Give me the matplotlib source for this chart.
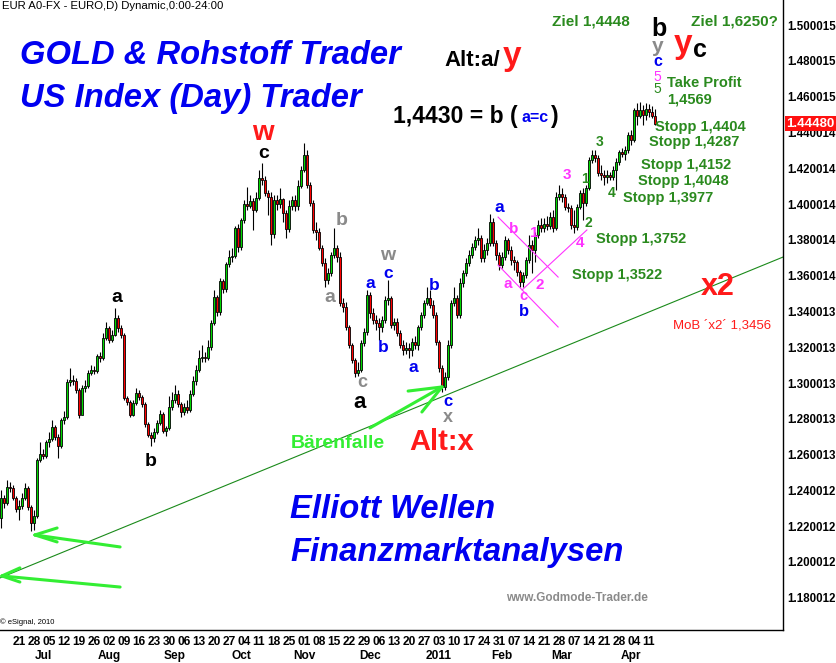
import matplotlib
matplotlib.use('Agg')
import matplotlib.pyplot as plt
import numpy as np
import pandas as pd
from matplotlib.transforms import blended_transform_factory

# ---------------- data (EUR/USD daily) ----------------
first_open = 1.2246
closes = [
 1.2358, 1.2330, 1.2419, 1.2413, 1.2358, 1.2296, 1.2313, 1.2358, 1.2413, 1.2307,
 1.2218, 1.2257, 1.2570, 1.2603, 1.2592, 1.2670, 1.2687, 1.2754, 1.2698, 1.2648,
 1.2793, 1.2810, 1.3006, 1.3017, 1.3011, 1.2961, 1.2821, 1.2972, 1.2983, 1.3056,
 1.3073, 1.3067, 1.3151, 1.3140, 1.3251, 1.3307, 1.3240, 1.3268, 1.3363, 1.3307,
 1.3268, 1.2916, 1.2894, 1.2821, 1.2888, 1.2944, 1.2922, 1.2883, 1.2771, 1.2709,
 1.2693, 1.2726, 1.2776, 1.2827, 1.2732, 1.2749, 1.2866, 1.2905, 1.2939, 1.2883,
 1.2838, 1.2866, 1.2849, 1.2939, 1.3011, 1.3073, 1.3140, 1.3145, 1.3140, 1.3201,
 1.3335, 1.3481, 1.3397, 1.3570, 1.3525, 1.3665, 1.3704, 1.3710, 1.3866, 1.3760,
 1.3911, 1.4000, 1.3989, 1.4017, 1.3966, 1.4034, 1.4145, 1.4134, 1.4061, 1.4039,
 1.3832, 1.4022, 1.4000, 1.4028, 1.3950, 1.3860, 1.3989, 1.4022, 1.3989, 1.4101,
 1.4190, 1.4274, 1.4106, 1.4006, 1.3855, 1.3844, 1.3754, 1.3670, 1.3575, 1.3615,
 1.3715, 1.3754, 1.3704, 1.3447, 1.3425, 1.3313, 1.3212, 1.3128, 1.3056, 1.3073,
 1.3223, 1.3285, 1.3492, 1.3391, 1.3352, 1.3335, 1.3313, 1.3352, 1.3464, 1.3475,
 1.3324, 1.3341, 1.3279, 1.3212, 1.3184, 1.3195, 1.3184, 1.3229, 1.3212, 1.3313,
 1.3380, 1.3447, 1.3475, 1.3436, 1.3380, 1.3229, 1.3084, 1.2978, 1.3034, 1.3212,
 1.3447, 1.3475, 1.3380, 1.3559, 1.3615, 1.3670, 1.3715, 1.3760, 1.3799, 1.3810,
 1.3698, 1.3743, 1.3782, 1.3899, 1.3782, 1.3715, 1.3659, 1.3704, 1.3799, 1.3743,
 1.3687, 1.3676, 1.3620, 1.3564, 1.3603, 1.3687, 1.3771, 1.3743, 1.3827, 1.3883,
 1.3866, 1.3888, 1.3877, 1.3927, 1.3866, 1.4039, 1.4056, 1.4039, 1.3983, 1.3978,
 1.3883, 1.3872, 1.3983, 1.4061, 1.4006, 1.4089, 1.4246, 1.4274, 1.4257, 1.4173,
 1.4162, 1.4151, 1.4162, 1.4151, 1.4190, 1.4235, 1.4291, 1.4279, 1.4302, 1.4386,
 1.4358, 1.4525, 1.4492, 1.4525, 1.4497, 1.4531, 1.4514, 1.4492, 1.4448]
highs = [
 1.2402, 1.2374, 1.2458, 1.2447, 1.2430, 1.2369, 1.2346, 1.2386, 1.2441, 1.2425,
 1.2318, 1.2291, 1.2581, 1.2670, 1.2631, 1.2682, 1.2726, 1.2793, 1.2765, 1.2715,
 1.2804, 1.2844, 1.3022, 1.3084, 1.3045, 1.3028, 1.2972, 1.2989, 1.3017, 1.3073,
 1.3101, 1.3095, 1.3162, 1.3173, 1.3279, 1.3341, 1.3319, 1.3296, 1.3419, 1.3380,
 1.3324, 1.3279, 1.2927, 1.2905, 1.2905, 1.2972, 1.2961, 1.2933, 1.2894, 1.2782,
 1.2726, 1.2749, 1.2793, 1.2849, 1.2838, 1.2760, 1.2927, 1.2950, 1.2989, 1.2961,
 1.2894, 1.2888, 1.2905, 1.2961, 1.3039, 1.3101, 1.3184, 1.3212, 1.3173, 1.3240,
 1.3352, 1.3520, 1.3492, 1.3587, 1.3581, 1.3676, 1.3743, 1.3754, 1.3877, 1.3888,
 1.3922, 1.4022, 1.4095, 1.4050, 1.4034, 1.4067, 1.4190, 1.4229, 1.4157, 1.4078,
 1.4067, 1.4050, 1.4050, 1.4089, 1.4034, 1.3966, 1.4022, 1.4045, 1.4050, 1.4134,
 1.4212, 1.4341, 1.4302, 1.4123, 1.4022, 1.3899, 1.3866, 1.3771, 1.3698, 1.3642,
 1.3732, 1.3866, 1.3771, 1.3732, 1.3475, 1.3453, 1.3324, 1.3223, 1.3140, 1.3117,
 1.3240, 1.3307, 1.3520, 1.3508, 1.3419, 1.3380, 1.3363, 1.3374, 1.3486, 1.3575,
 1.3486, 1.3363, 1.3363, 1.3296, 1.3240, 1.3229, 1.3223, 1.3251, 1.3263, 1.3324,
 1.3397, 1.3464, 1.3536, 1.3520, 1.3464, 1.3397, 1.3240, 1.3101, 1.3061, 1.3240,
 1.3464, 1.3536, 1.3492, 1.3587, 1.3631, 1.3698, 1.3743, 1.3782, 1.3821, 1.3866,
 1.3827, 1.3777, 1.3810, 1.3944, 1.3922, 1.3799, 1.3732, 1.3732, 1.3821, 1.3810,
 1.3766, 1.3710, 1.3687, 1.3631, 1.3620, 1.3704, 1.3827, 1.3799, 1.3844, 1.3911,
 1.3922, 1.3922, 1.3933, 1.3955, 1.3966, 1.4067, 1.4106, 1.4089, 1.4056, 1.4006,
 1.3994, 1.3966, 1.4000, 1.4078, 1.4089, 1.4106, 1.4263, 1.4302, 1.4302, 1.4274,
 1.4218, 1.4190, 1.4190, 1.4179, 1.4212, 1.4257, 1.4302, 1.4313, 1.4324, 1.4402,
 1.4413, 1.4536, 1.4564, 1.4570, 1.4553, 1.4564, 1.4559, 1.4548, 1.4530]
lows = [
 1.2190, 1.2302, 1.2318, 1.2391, 1.2346, 1.2279, 1.2235, 1.2296, 1.2346, 1.2291,
 1.2173, 1.2179, 1.2246, 1.2559, 1.2575, 1.2581, 1.2643, 1.2676, 1.2682, 1.2581,
 1.2637, 1.2771, 1.2799, 1.2983, 1.2989, 1.2944, 1.2804, 1.2827, 1.2950, 1.2972,
 1.3045, 1.3050, 1.3056, 1.3117, 1.3128, 1.3240, 1.3223, 1.3229, 1.3263, 1.3285,
 1.3251, 1.2905, 1.2877, 1.2810, 1.2816, 1.2877, 1.2905, 1.2866, 1.2754, 1.2698,
 1.2648, 1.2670, 1.2715, 1.2765, 1.2721, 1.2704, 1.2737, 1.2849, 1.2888, 1.2866,
 1.2810, 1.2821, 1.2832, 1.2838, 1.2927, 1.2989, 1.3061, 1.3117, 1.3117, 1.3128,
 1.3184, 1.3324, 1.3374, 1.3380, 1.3503, 1.3508, 1.3648, 1.3676, 1.3698, 1.3732,
 1.3743, 1.3894, 1.3966, 1.3978, 1.3855, 1.3955, 1.4022, 1.4106, 1.4045, 1.3939,
 1.3771, 1.3810, 1.3966, 1.3978, 1.3899, 1.3810, 1.3844, 1.3966, 1.3961, 1.3966,
 1.4089, 1.4179, 1.4089, 1.3989, 1.3838, 1.3799, 1.3743, 1.3654, 1.3536, 1.3553,
 1.3598, 1.3698, 1.3676, 1.3431, 1.3397, 1.3296, 1.3195, 1.3112, 1.3034, 1.3039,
 1.3061, 1.3207, 1.3268, 1.3363, 1.3330, 1.3296, 1.3240, 1.3285, 1.3335, 1.3436,
 1.3307, 1.3296, 1.3263, 1.3195, 1.3156, 1.3162, 1.3140, 1.3151, 1.3190, 1.3184,
 1.3296, 1.3363, 1.3436, 1.3419, 1.3363, 1.3212, 1.3061, 1.2950, 1.2961, 1.3017,
 1.3195, 1.3431, 1.3363, 1.3363, 1.3536, 1.3598, 1.3654, 1.3698, 1.3743, 1.3771,
 1.3676, 1.3676, 1.3715, 1.3766, 1.3766, 1.3687, 1.3631, 1.3642, 1.3687, 1.3721,
 1.3659, 1.3631, 1.3598, 1.3536, 1.3536, 1.3587, 1.3670, 1.3615, 1.3676, 1.3810,
 1.3844, 1.3844, 1.3855, 1.3860, 1.3844, 1.3855, 1.4022, 1.4011, 1.3966, 1.3955,
 1.3860, 1.3838, 1.3855, 1.3972, 1.3911, 1.3989, 1.4078, 1.4229, 1.4235, 1.4157,
 1.4134, 1.4106, 1.4117, 1.4134, 1.4134, 1.4078, 1.4218, 1.4263, 1.4246, 1.4285,
 1.4330, 1.4346, 1.4441, 1.4481, 1.4441, 1.4469, 1.4486, 1.4481, 1.4440]

start_date = '2010-06-11'
week_labels = ['21', '28', '05', '12', '19', '26', '02', '09', '16', '23', '30',
               '06', '13', '20', '27', '04', '11', '18', '25', '01', '08', '15',
               '22', '29', '06', '13', '20', '27', '03', '10', '17', '24', '31',
               '07', '14', '21', '28', '07', '14', '21', '28', '04', '11']
month_labels = ['Jul', 'Aug', 'Sep', 'Oct', 'Nov', 'Dec', '2011', 'Feb', 'Mar', 'Apr']
y_ticks = [1.50, 1.48, 1.46, 1.44, 1.42, 1.40, 1.38, 1.36, 1.34, 1.32, 1.30,
           1.28, 1.26, 1.24, 1.22, 1.20, 1.18]
y_labels = ['1.500015', '1.480015', '1.460015', '1.440014', '1.420014', '1.400014',
            '1.380014', '1.360014', '1.340013', '1.320013', '1.300013', '1.280013',
            '1.260013', '1.240012', '1.220012', '1.200012', '1.180012']
last_price = 1.4448
# guide lines: (day index, price) pairs
trend_line = ([-0.3, 260.7], [1.1911, 1.3704])
pink_lines = [([165.7, 185.7], [1.3927, 1.3592]),
              ([165.7, 185.7], [1.3659, 1.3313]),
              ([173.7, 195.3], [1.3520, 1.3855])]
arrows = [  # tail, tip, head1, head2
    ((39.7, 1.2084), (11.3, 1.2151), (18.7, 1.2190), (18.7, 1.2112)),
    ((39.7, 1.1860), (0.3, 1.1922), (6.3, 1.1967), (6.3, 1.1888)),
    ((123.0, 1.2749), (147.0, 1.2978), (135.7, 1.2955), (140.3, 1.2838)),
]

# ---------------- figure ----------------
W, H = 836, 663
fig = plt.figure(figsize=(W / 100, H / 100), dpi=100)
ax = fig.add_axes([0, 1 - 630 / H, 783 / W, 630 / H])
FONT = 'Liberation Sans'

n = len(closes)
opens = [first_open] + closes[:-1]
xs = np.arange(n)
o = np.array(opens)
c = np.array(closes)
up = c >= o
ax.vlines(xs, lows, highs, color='black', lw=0.8, zorder=2)
ax.bar(xs, c - o, bottom=o, width=0.8,
       color=np.where(up, '#00d800', '#ff0000'),
       edgecolor='black', linewidth=0.6, zorder=3)

ax.set_xlim(-0.333, 260.67)
ax.set_ylim(1.1620, 1.5140)

# trend + pink lines
ax.plot(trend_line[0], trend_line[1], color='#1a8a1a', lw=0.8, zorder=1)
for lx, ly in pink_lines:
    ax.plot(lx, ly, color='#ff33ff', lw=0.8, zorder=4)
for tail, tip, h1, h2 in arrows:
    for a, b in ((tail, tip), (h1, tip), (h2, tip)):
        ax.plot([a[0], b[0]], [a[1], b[1]], color='#33ee33', lw=2.2,
                solid_capstyle='round', zorder=5)

# axes styling
for s in ('top', 'left'):
    ax.spines[s].set_visible(False)
ax.spines['right'].set_linewidth(1.0)
ax.spines['bottom'].set_linewidth(1.0)

ax.yaxis.tick_right()
ax.set_yticks(y_ticks)
ax.set_yticklabels(y_labels, fontfamily=FONT, fontweight='bold', fontsize=8.3)
ax.tick_params(axis='y', length=0, pad=3)

dates = pd.bdate_range(start_date, periods=n)
mondays = pd.date_range('2010-06-21', periods=len(week_labels), freq='7D')
week_pos = [dates.get_loc(d) for d in mondays]
ax.set_xticks(week_pos)
ax.set_xticklabels(week_labels, fontfamily=FONT, fontweight='bold', fontsize=8.6)
ax.tick_params(axis='x', length=0, pad=4)

month_pos = []
seen = set()
for i, d in enumerate(dates):
    key = (d.year, d.month)
    if key not in seen:
        seen.add(key)
        month_pos.append(i)
month_pos = month_pos[1:1 + len(month_labels)]
tb = blended_transform_factory(ax.transData, ax.transAxes)
for pos, lab in zip(month_pos, month_labels):
    ax.text(pos, -0.042, lab, transform=tb, ha='center', va='center',
            fontfamily=FONT, fontweight='bold', fontsize=8.6)

# last price box
ty = blended_transform_factory(ax.transAxes, ax.transData)
ax.text(1.004, last_price, '1.44480', transform=ty, ha='left', va='center',
        color='white', fontfamily=FONT, fontweight='bold', fontsize=9.5,
        bbox=dict(boxstyle='square,pad=0.12', fc='#ff1010', ec='none'), zorder=10)


# ---------------- annotations (figure pixel positions) ----------------
def T(x, y, s, color='black', size=10, weight='bold', style='normal', ha='center', va='center'):
    fig.text(x / W, 1 - y / H, s, color=color, fontsize=size, fontweight=weight,
             fontstyle=style, ha=ha, va=va, fontfamily=FONT, zorder=20)


BLUE = '#0000f0'
RED = '#ff1a1a'
DGREEN = '#2a8a1e'
PINK = '#ff33ff'
GRAY = '#8a8a8a'
LGREEN = '#33ee33'

T(2, 6, 'EUR A0-FX - EURO,D) Dynamic,0:00-24:00', size=8.2, weight='normal', ha='left')
T(20, 55, 'GOLD & Rohstoff Trader', color=BLUE, size=23.6, style='italic', ha='left')
T(20, 98, 'US Index (Day) Trader', color=BLUE, size=23.6, style='italic', ha='left')
T(290, 510, 'Elliott Wellen', color=BLUE, size=23.6, style='italic', ha='left')
T(290, 552, 'Finanzmarktanalysen', color=BLUE, size=23.6, style='italic', ha='left')

T(444, 61, 'Alt:a/', size=16, ha='left')
T(512, 57, 'y', color=RED, size=24)
T(393, 117, '1,4430 = b (', size=16.5, ha='left')
T(522, 117, 'a=c', color=BLUE, size=11.5, ha='left')
T(551, 117, ')', size=16.5, ha='left')

T(591, 21, 'Ziel 1,4448', color=DGREEN, size=11)
T(734, 21, 'Ziel 1,6250?', color=DGREEN, size=11)
T(659, 29, 'b', size=18)
T(658, 47, 'y', color=GRAY, size=15)
T(683, 45, 'y', color=RED, size=24)
T(700, 50, 'c', size=18)
T(658, 62, 'c', color=BLUE, size=11.5)
T(657, 77, '5', color=PINK, size=10, weight='normal')
T(657, 89, '5', color=DGREEN, size=10, weight='normal')
T(667, 83, 'Take Profit', color=DGREEN, size=10.5, ha='left')
T(667, 99, '1,4569', color=DGREEN, size=10.5, ha='left')

for xx, yy, s in [(655, 127, 'Stopp 1,4404'), (649, 142, 'Stopp 1,4287'),
                  (641, 165, 'Stopp 1,4152'), (638, 181, 'Stopp 1,4048'),
                  (623, 198, 'Stopp 1,3977'), (596, 239, 'Stopp 1,3752'),
                  (572, 275, 'Stopp 1,3522')]:
    T(xx, yy, s, color=DGREEN, size=10.5, ha='left')

# green wave counts
for xx, yy, s in [(600, 142, '3'), (585, 179, '1'), (612, 193, '4'), (588, 223, '2')]:
    T(xx, yy, s, color=DGREEN, size=10)
# pink wave counts
for xx, yy, s in [(567, 175, '3'), (580, 243, '4'), (534, 233, '1'), (540, 285, '2'),
                  (514, 229, 'b'), (508, 284, 'a')]:
    T(xx, yy, s, color=PINK, size=11)
T(523, 296, 'c', color=PINK, size=10.5)
# blue letters
for xx, yy, s in [(499, 207, 'a'), (370, 283, 'a'), (388, 273, 'c'),
                  (383, 348, 'b'), (413, 367, 'a'), (434, 286, 'b')]:
    T(xx, yy, s, color=BLUE, size=12.5)
T(524, 312, 'b', color=BLUE, size=12)
T(448, 401, 'c', color=BLUE, size=12)
# gray letters
for xx, yy, s in [(388, 256, 'w'), (342, 221, 'b'), (330, 298, 'a')]:
    T(xx, yy, s, color=GRAY, size=14)
T(362, 383, 'c', color=GRAY, size=13)
T(448, 418, 'x', color=GRAY, size=13)
# black letters
T(117, 297, 'a', size=14)
T(151, 461, 'b', size=14)
T(264, 153, 'c', size=14)
T(360, 403, 'a', size=16)
T(263, 133, 'w', color=RED, size=20)

T(718, 287, 'x2', color=RED, size=22)
T(722, 325, 'MoB \u00b4x2\u00b4 1,3456', color=RED, size=9.5, weight='normal')
T(338, 444, 'B\u00e4renfalle', color=LGREEN, size=14)
T(442, 442, 'Alt:x', color=RED, size=21)
T(577, 598, 'www.Godmode-Trader.de', color=GRAY, size=8.5)
T(0, 622, '\u00a9 eSignal, 2010', size=5.5, weight='normal', ha='left')

fig.savefig('out.png', dpi=100)
